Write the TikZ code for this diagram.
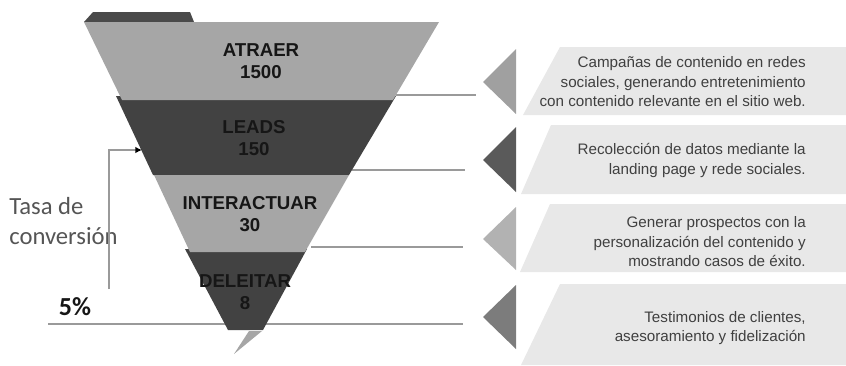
\documentclass[tikz,border=0pt]{standalone}
\usepackage{fontspec}
\setmainfont{Liberation Sans}
\newfontfamily\calfont{Carlito}
\usetikzlibrary{arrows.meta}
\definecolor{lgray}{HTML}{A6A6A6}
\definecolor{dgray}{HTML}{424242}
\definecolor{tabgray}{HTML}{4A4A4A}
\definecolor{boxgray}{HTML}{E8E8E8}
\definecolor{tri1}{HTML}{A0A0A0}
\definecolor{tri2}{HTML}{5A5A5A}
\definecolor{tri3}{HTML}{B2B2B2}
\definecolor{tri4}{HTML}{7C7C7C}
\definecolor{linegray}{HTML}{9A9A9A}
\definecolor{txtdark}{HTML}{161616}
\definecolor{txtbox}{HTML}{404040}
\definecolor{txtside}{HTML}{555555}
\begin{document}
\begin{tikzpicture}[x=0.75pt,y=-0.75pt,
  funneltext/.style={font=\fontsize{14}{17}\selectfont\bfseries, text=txtdark, align=center, inner sep=0pt},
  boxtext/.style={font=\fontsize{11.4}{14.6}\selectfont, text=txtbox, align=right, anchor=east, inner sep=0pt},
  guide/.style={draw=linegray, line width=1.1pt},
  sidetext/.style={font=\calfont\fontsize{18.5}{22.5}\selectfont, text=txtside, align=left, anchor=west, inner sep=0pt}]
\useasboundingbox (0,0) rectangle (846,365);
% right boxes
\fill[boxgray] (560,47) -- (846,47) -- (846,115) -- (523,115) -- cycle;
\fill[boxgray] (551,125) -- (846,125) -- (846,194) -- (521,194) -- cycle;
\fill[boxgray] (550,204) -- (846,204) -- (846,272) -- (520,272) -- cycle;
\fill[boxgray] (560,284) -- (846,284) -- (846,365) -- (521,365) -- cycle;
% triangles
\fill[tri1] (516,49) -- (483,82) -- (516,114) -- cycle;
\fill[tri2] (516,127) -- (483,160) -- (516,192) -- cycle;
\fill[tri3] (516,207) -- (483,239) -- (516,270) -- cycle;
\fill[tri4] (516,285) -- (483,317) -- (516,349) -- cycle;
% guide lines
\coordinate (l1a) at (396,95); \coordinate (l1b) at (476,95);
\coordinate (l2a) at (352,170); \coordinate (l2b) at (465,170);
\coordinate (l3a) at (311,247); \coordinate (l3b) at (463,247);
\coordinate (l4a) at (48,324); \coordinate (l4b) at (463,324);
\draw[guide] (l1a) -- (l1b);
\draw[guide] (l2a) -- (l2b);
\draw[guide] (l3a) -- (l3b);
\draw[guide] (l4a) -- (l4b);
% funnel
\fill[tabgray] (84,22) -- (93,12) -- (190,12) -- (194,22) -- cycle;
\fill[dgray] (116,96) -- (396,96) -- (349,175) -- (153,175) -- cycle;
\fill[lgray] (84,22) -- (439,22) -- (393,100) -- (122,100) -- cycle;
\fill[dgray] (185,249) -- (307,249) -- (263,330) -- (228,330) -- cycle;
\fill[lgray] (154,175) -- (349,175) -- (305,252) -- (190,252) -- cycle;
\fill[lgray] (249,331) -- (262,331) -- (234,354) -- cycle;
% funnel labels
\node[funneltext] (atraer) at (261,61) {ATRAER\\1500};
\node[funneltext] (leads) at (254,138) {LEADS\\150};
\node[funneltext] (inter) at (250,214) {INTERACTUAR\\30};
\node[funneltext] (delei) at (245,292) {DELEITAR\\8};
% box texts
\node[boxtext] (b1) at (806,82) {Campañas de contenido en redes\\sociales, generando entretenimiento\\con contenido relevante en el sitio web.};
\node[boxtext] (b2) at (806,160.5) {Recolección de datos mediante la\\landing page y rede sociales.};
\node[boxtext] (b3) at (806,242) {Generar prospectos con la\\personalización del contenido y\\mostrando casos de éxito.};
\node[boxtext] (b4) at (806,328) {Testimonios de clientes,\\asesoramiento y fidelización};
% side labels
\node[sidetext] (tasa) at (9,221) {Tasa de\\conversión};
\node[font=\calfont\bfseries\fontsize{19.5}{22}\selectfont, text=txtdark, inner sep=0pt] (pct) at (75,307) {5\%};
\coordinate (brbot) at (109,289);
\coordinate (brtop) at (109,150);
\coordinate (brtip) at (142,150);
\draw[draw=linegray, line width=1pt, -{Latex[black,length=5pt,width=5pt]}] (brbot) -- (brtop) -- (brtip);
\end{tikzpicture}
\end{document}
